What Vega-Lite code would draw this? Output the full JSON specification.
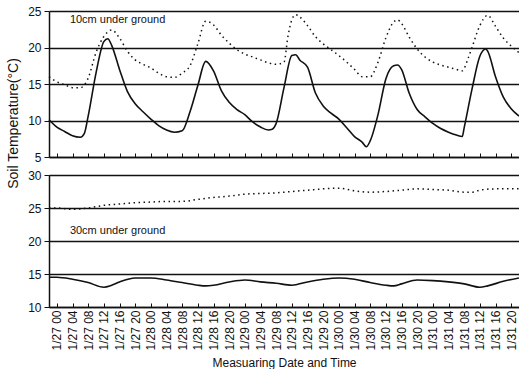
{
  "$schema": "https://vega.github.io/schema/vega-lite/v6.json",
  "padding": {"left": 6, "top": 5, "right": 0, "bottom": 0},
  "spacing": 6,
  "title": {"text": "Soil Temperature(°C)", "orient": "left", "anchor": "middle", "fontSize": 14, "fontWeight": "normal", "font": "Liberation Sans", "color": "#111", "offset": 7, "dx": 63},
  "config": {
    "view": {"stroke": null},
    "font": "Liberation Sans",
    "axis": {"labelColor": "#111", "titleColor": "#111", "domainColor": "#111", "tickColor": "#111", "titleFontWeight": "normal"}
  },
  "datasets": {
    "d10": [
      {"t": "2001-01-26T22:00", "s": "a", "v": 10.1},
      {"t": "2001-01-27T00:00", "s": "a", "v": 9.1},
      {"t": "2001-01-27T02:00", "s": "a", "v": 8.5},
      {"t": "2001-01-27T04:00", "s": "a", "v": 7.9},
      {"t": "2001-01-27T06:00", "s": "a", "v": 7.7},
      {"t": "2001-01-27T07:00", "s": "a", "v": 8.2},
      {"t": "2001-01-27T08:00", "s": "a", "v": 10.6},
      {"t": "2001-01-27T10:00", "s": "a", "v": 16.5},
      {"t": "2001-01-27T12:00", "s": "a", "v": 20.8},
      {"t": "2001-01-27T13:00", "s": "a", "v": 21.2},
      {"t": "2001-01-27T14:00", "s": "a", "v": 20.3},
      {"t": "2001-01-27T16:00", "s": "a", "v": 17.0},
      {"t": "2001-01-27T18:00", "s": "a", "v": 14.0},
      {"t": "2001-01-27T20:00", "s": "a", "v": 12.3},
      {"t": "2001-01-27T22:00", "s": "a", "v": 11.2},
      {"t": "2001-01-28T00:00", "s": "a", "v": 10.2},
      {"t": "2001-01-28T02:00", "s": "a", "v": 9.3},
      {"t": "2001-01-28T04:00", "s": "a", "v": 8.7},
      {"t": "2001-01-28T06:00", "s": "a", "v": 8.4},
      {"t": "2001-01-28T08:00", "s": "a", "v": 8.6},
      {"t": "2001-01-28T10:00", "s": "a", "v": 11.2},
      {"t": "2001-01-28T12:00", "s": "a", "v": 14.8},
      {"t": "2001-01-28T14:00", "s": "a", "v": 18.1},
      {"t": "2001-01-28T16:00", "s": "a", "v": 16.8},
      {"t": "2001-01-28T18:00", "s": "a", "v": 14.1},
      {"t": "2001-01-28T20:00", "s": "a", "v": 12.5},
      {"t": "2001-01-28T22:00", "s": "a", "v": 11.5},
      {"t": "2001-01-29T00:00", "s": "a", "v": 10.8},
      {"t": "2001-01-29T02:00", "s": "a", "v": 9.8},
      {"t": "2001-01-29T04:00", "s": "a", "v": 9.1},
      {"t": "2001-01-29T06:00", "s": "a", "v": 8.7},
      {"t": "2001-01-29T07:00", "s": "a", "v": 8.8},
      {"t": "2001-01-29T08:00", "s": "a", "v": 9.6},
      {"t": "2001-01-29T10:00", "s": "a", "v": 14.5},
      {"t": "2001-01-29T12:00", "s": "a", "v": 18.9},
      {"t": "2001-01-29T13:00", "s": "a", "v": 19.0},
      {"t": "2001-01-29T14:00", "s": "a", "v": 18.3},
      {"t": "2001-01-29T16:00", "s": "a", "v": 17.3},
      {"t": "2001-01-29T18:00", "s": "a", "v": 13.8},
      {"t": "2001-01-29T20:00", "s": "a", "v": 12.0},
      {"t": "2001-01-29T22:00", "s": "a", "v": 11.0},
      {"t": "2001-01-30T00:00", "s": "a", "v": 10.2},
      {"t": "2001-01-30T02:00", "s": "a", "v": 9.0},
      {"t": "2001-01-30T04:00", "s": "a", "v": 7.8},
      {"t": "2001-01-30T06:00", "s": "a", "v": 7.0},
      {"t": "2001-01-30T07:00", "s": "a", "v": 6.4},
      {"t": "2001-01-30T08:00", "s": "a", "v": 7.2},
      {"t": "2001-01-30T10:00", "s": "a", "v": 10.8},
      {"t": "2001-01-30T12:00", "s": "a", "v": 15.7},
      {"t": "2001-01-30T14:00", "s": "a", "v": 17.5},
      {"t": "2001-01-30T15:00", "s": "a", "v": 17.6},
      {"t": "2001-01-30T16:00", "s": "a", "v": 17.0},
      {"t": "2001-01-30T18:00", "s": "a", "v": 13.7},
      {"t": "2001-01-30T20:00", "s": "a", "v": 11.5},
      {"t": "2001-01-30T22:00", "s": "a", "v": 10.5},
      {"t": "2001-01-31T00:00", "s": "a", "v": 9.6},
      {"t": "2001-01-31T02:00", "s": "a", "v": 8.9},
      {"t": "2001-01-31T04:00", "s": "a", "v": 8.4},
      {"t": "2001-01-31T06:00", "s": "a", "v": 8.0},
      {"t": "2001-01-31T07:30", "s": "a", "v": 7.8},
      {"t": "2001-01-31T08:00", "s": "a", "v": 9.0},
      {"t": "2001-01-31T10:00", "s": "a", "v": 14.3},
      {"t": "2001-01-31T12:00", "s": "a", "v": 18.8},
      {"t": "2001-01-31T13:30", "s": "a", "v": 19.8},
      {"t": "2001-01-31T14:00", "s": "a", "v": 19.5},
      {"t": "2001-01-31T16:00", "s": "a", "v": 16.0},
      {"t": "2001-01-31T18:00", "s": "a", "v": 13.2},
      {"t": "2001-01-31T20:00", "s": "a", "v": 11.6},
      {"t": "2001-01-31T22:00", "s": "a", "v": 10.6},
      {"t": "2001-01-26T22:00", "s": "b", "v": 16.0},
      {"t": "2001-01-27T00:00", "s": "b", "v": 15.3},
      {"t": "2001-01-27T02:00", "s": "b", "v": 14.9},
      {"t": "2001-01-27T04:00", "s": "b", "v": 14.5},
      {"t": "2001-01-27T06:00", "s": "b", "v": 14.5},
      {"t": "2001-01-27T08:00", "s": "b", "v": 15.8},
      {"t": "2001-01-27T10:00", "s": "b", "v": 19.3},
      {"t": "2001-01-27T12:00", "s": "b", "v": 21.5},
      {"t": "2001-01-27T14:00", "s": "b", "v": 22.4},
      {"t": "2001-01-27T16:00", "s": "b", "v": 21.3},
      {"t": "2001-01-27T18:00", "s": "b", "v": 19.5},
      {"t": "2001-01-27T20:00", "s": "b", "v": 18.3},
      {"t": "2001-01-27T22:00", "s": "b", "v": 17.7},
      {"t": "2001-01-28T00:00", "s": "b", "v": 17.2},
      {"t": "2001-01-28T02:00", "s": "b", "v": 16.5},
      {"t": "2001-01-28T04:00", "s": "b", "v": 16.0},
      {"t": "2001-01-28T06:00", "s": "b", "v": 15.9},
      {"t": "2001-01-28T08:00", "s": "b", "v": 16.5},
      {"t": "2001-01-28T10:00", "s": "b", "v": 17.5},
      {"t": "2001-01-28T12:00", "s": "b", "v": 20.5},
      {"t": "2001-01-28T14:00", "s": "b", "v": 23.6},
      {"t": "2001-01-28T16:00", "s": "b", "v": 23.1},
      {"t": "2001-01-28T18:00", "s": "b", "v": 21.7},
      {"t": "2001-01-28T20:00", "s": "b", "v": 20.6},
      {"t": "2001-01-28T22:00", "s": "b", "v": 19.7},
      {"t": "2001-01-29T00:00", "s": "b", "v": 19.1},
      {"t": "2001-01-29T02:00", "s": "b", "v": 18.7},
      {"t": "2001-01-29T04:00", "s": "b", "v": 18.3},
      {"t": "2001-01-29T06:00", "s": "b", "v": 17.9},
      {"t": "2001-01-29T08:00", "s": "b", "v": 17.7},
      {"t": "2001-01-29T10:00", "s": "b", "v": 18.0},
      {"t": "2001-01-29T11:00", "s": "b", "v": 21.5},
      {"t": "2001-01-29T12:00", "s": "b", "v": 23.8},
      {"t": "2001-01-29T13:00", "s": "b", "v": 24.5},
      {"t": "2001-01-29T14:00", "s": "b", "v": 24.2},
      {"t": "2001-01-29T16:00", "s": "b", "v": 23.0},
      {"t": "2001-01-29T18:00", "s": "b", "v": 21.5},
      {"t": "2001-01-29T20:00", "s": "b", "v": 20.5},
      {"t": "2001-01-29T22:00", "s": "b", "v": 19.7},
      {"t": "2001-01-30T00:00", "s": "b", "v": 18.9},
      {"t": "2001-01-30T02:00", "s": "b", "v": 18.0},
      {"t": "2001-01-30T04:00", "s": "b", "v": 17.0},
      {"t": "2001-01-30T06:00", "s": "b", "v": 16.0},
      {"t": "2001-01-30T08:00", "s": "b", "v": 16.0},
      {"t": "2001-01-30T10:00", "s": "b", "v": 18.0},
      {"t": "2001-01-30T12:00", "s": "b", "v": 21.3},
      {"t": "2001-01-30T14:00", "s": "b", "v": 23.5},
      {"t": "2001-01-30T15:00", "s": "b", "v": 23.8},
      {"t": "2001-01-30T16:00", "s": "b", "v": 23.3},
      {"t": "2001-01-30T18:00", "s": "b", "v": 21.4},
      {"t": "2001-01-30T20:00", "s": "b", "v": 19.8},
      {"t": "2001-01-30T22:00", "s": "b", "v": 18.7},
      {"t": "2001-01-31T00:00", "s": "b", "v": 18.0},
      {"t": "2001-01-31T02:00", "s": "b", "v": 17.6},
      {"t": "2001-01-31T04:00", "s": "b", "v": 17.3},
      {"t": "2001-01-31T06:00", "s": "b", "v": 17.0},
      {"t": "2001-01-31T07:30", "s": "b", "v": 16.8},
      {"t": "2001-01-31T09:00", "s": "b", "v": 18.5},
      {"t": "2001-01-31T10:00", "s": "b", "v": 20.0},
      {"t": "2001-01-31T12:00", "s": "b", "v": 23.0},
      {"t": "2001-01-31T14:00", "s": "b", "v": 24.4},
      {"t": "2001-01-31T16:00", "s": "b", "v": 22.9},
      {"t": "2001-01-31T18:00", "s": "b", "v": 21.3},
      {"t": "2001-01-31T20:00", "s": "b", "v": 20.2},
      {"t": "2001-01-31T22:00", "s": "b", "v": 19.3}
    ],
    "d30": [
      {"t": "2001-01-26T22:00", "s": "a", "v": 14.5},
      {"t": "2001-01-27T00:00", "s": "a", "v": 14.5},
      {"t": "2001-01-27T04:00", "s": "a", "v": 14.2},
      {"t": "2001-01-27T08:00", "s": "a", "v": 13.7},
      {"t": "2001-01-27T12:00", "s": "a", "v": 13.0},
      {"t": "2001-01-27T14:00", "s": "a", "v": 13.3},
      {"t": "2001-01-27T16:00", "s": "a", "v": 13.8},
      {"t": "2001-01-27T20:00", "s": "a", "v": 14.4},
      {"t": "2001-01-28T00:00", "s": "a", "v": 14.4},
      {"t": "2001-01-28T04:00", "s": "a", "v": 14.1},
      {"t": "2001-01-28T08:00", "s": "a", "v": 13.7},
      {"t": "2001-01-28T12:00", "s": "a", "v": 13.3},
      {"t": "2001-01-28T14:00", "s": "a", "v": 13.2},
      {"t": "2001-01-28T16:00", "s": "a", "v": 13.3},
      {"t": "2001-01-28T20:00", "s": "a", "v": 13.8},
      {"t": "2001-01-29T00:00", "s": "a", "v": 14.1},
      {"t": "2001-01-29T04:00", "s": "a", "v": 13.8},
      {"t": "2001-01-29T08:00", "s": "a", "v": 13.6},
      {"t": "2001-01-29T12:00", "s": "a", "v": 13.3},
      {"t": "2001-01-29T16:00", "s": "a", "v": 13.8},
      {"t": "2001-01-29T20:00", "s": "a", "v": 14.2},
      {"t": "2001-01-30T00:00", "s": "a", "v": 14.4},
      {"t": "2001-01-30T04:00", "s": "a", "v": 14.2},
      {"t": "2001-01-30T08:00", "s": "a", "v": 13.7},
      {"t": "2001-01-30T12:00", "s": "a", "v": 13.3},
      {"t": "2001-01-30T14:00", "s": "a", "v": 13.2},
      {"t": "2001-01-30T16:00", "s": "a", "v": 13.5},
      {"t": "2001-01-30T20:00", "s": "a", "v": 14.1},
      {"t": "2001-01-31T00:00", "s": "a", "v": 14.0},
      {"t": "2001-01-31T04:00", "s": "a", "v": 13.8},
      {"t": "2001-01-31T08:00", "s": "a", "v": 13.5},
      {"t": "2001-01-31T12:00", "s": "a", "v": 13.0},
      {"t": "2001-01-31T14:00", "s": "a", "v": 13.2},
      {"t": "2001-01-31T18:00", "s": "a", "v": 13.9},
      {"t": "2001-01-31T22:00", "s": "a", "v": 14.4},
      {"t": "2001-01-26T22:00", "s": "b", "v": 25.0},
      {"t": "2001-01-27T00:00", "s": "b", "v": 25.0},
      {"t": "2001-01-27T04:00", "s": "b", "v": 24.8},
      {"t": "2001-01-27T08:00", "s": "b", "v": 25.0},
      {"t": "2001-01-27T12:00", "s": "b", "v": 25.4},
      {"t": "2001-01-27T16:00", "s": "b", "v": 25.6},
      {"t": "2001-01-27T20:00", "s": "b", "v": 25.8},
      {"t": "2001-01-28T00:00", "s": "b", "v": 25.9},
      {"t": "2001-01-28T04:00", "s": "b", "v": 26.0},
      {"t": "2001-01-28T08:00", "s": "b", "v": 26.0},
      {"t": "2001-01-28T12:00", "s": "b", "v": 26.3},
      {"t": "2001-01-28T16:00", "s": "b", "v": 26.6},
      {"t": "2001-01-28T20:00", "s": "b", "v": 26.8},
      {"t": "2001-01-29T00:00", "s": "b", "v": 27.1},
      {"t": "2001-01-29T04:00", "s": "b", "v": 27.2},
      {"t": "2001-01-29T08:00", "s": "b", "v": 27.3},
      {"t": "2001-01-29T12:00", "s": "b", "v": 27.5},
      {"t": "2001-01-29T16:00", "s": "b", "v": 27.7},
      {"t": "2001-01-29T20:00", "s": "b", "v": 27.9},
      {"t": "2001-01-30T00:00", "s": "b", "v": 28.0},
      {"t": "2001-01-30T04:00", "s": "b", "v": 27.6},
      {"t": "2001-01-30T08:00", "s": "b", "v": 27.4},
      {"t": "2001-01-30T12:00", "s": "b", "v": 27.5},
      {"t": "2001-01-30T16:00", "s": "b", "v": 27.7},
      {"t": "2001-01-30T20:00", "s": "b", "v": 27.9},
      {"t": "2001-01-31T00:00", "s": "b", "v": 27.8},
      {"t": "2001-01-31T04:00", "s": "b", "v": 27.7},
      {"t": "2001-01-31T08:00", "s": "b", "v": 27.4},
      {"t": "2001-01-31T10:00", "s": "b", "v": 27.4},
      {"t": "2001-01-31T12:00", "s": "b", "v": 27.7},
      {"t": "2001-01-31T16:00", "s": "b", "v": 27.9},
      {"t": "2001-01-31T22:00", "s": "b", "v": 27.9}
    ],
    "lab": [
      {"p": "top", "t": "2001-01-27T03:20", "v": 23.8, "label": "10cm under ground"},
      {"p": "bot", "t": "2001-01-27T03:20", "v": 21.5, "label": "30cm under ground"}
    ]
  },
  "vconcat": [
    {
      "width": 470,
      "height": 146,
      "encoding": {
        "x": {"field": "t", "type": "temporal",
          "scale": {"domain": [{"year": 2001, "month": 1, "date": 26, "hours": 22}, {"year": 2001, "month": 1, "date": 31, "hours": 22}]},
          "axis": {"values": [
            {"year": 2001, "month": 1, "date": 27, "hours": 0}, {"year": 2001, "month": 1, "date": 27, "hours": 4}, {"year": 2001, "month": 1, "date": 27, "hours": 8}, {"year": 2001, "month": 1, "date": 27, "hours": 12}, {"year": 2001, "month": 1, "date": 27, "hours": 16}, {"year": 2001, "month": 1, "date": 27, "hours": 20},
            {"year": 2001, "month": 1, "date": 28, "hours": 0}, {"year": 2001, "month": 1, "date": 28, "hours": 4}, {"year": 2001, "month": 1, "date": 28, "hours": 8}, {"year": 2001, "month": 1, "date": 28, "hours": 12}, {"year": 2001, "month": 1, "date": 28, "hours": 16}, {"year": 2001, "month": 1, "date": 28, "hours": 20},
            {"year": 2001, "month": 1, "date": 29, "hours": 0}, {"year": 2001, "month": 1, "date": 29, "hours": 4}, {"year": 2001, "month": 1, "date": 29, "hours": 8}, {"year": 2001, "month": 1, "date": 29, "hours": 12}, {"year": 2001, "month": 1, "date": 29, "hours": 16}, {"year": 2001, "month": 1, "date": 29, "hours": 20},
            {"year": 2001, "month": 1, "date": 30, "hours": 0}, {"year": 2001, "month": 1, "date": 30, "hours": 4}, {"year": 2001, "month": 1, "date": 30, "hours": 8}, {"year": 2001, "month": 1, "date": 30, "hours": 12}, {"year": 2001, "month": 1, "date": 30, "hours": 16}, {"year": 2001, "month": 1, "date": 30, "hours": 20},
            {"year": 2001, "month": 1, "date": 31, "hours": 0}, {"year": 2001, "month": 1, "date": 31, "hours": 4}, {"year": 2001, "month": 1, "date": 31, "hours": 8}, {"year": 2001, "month": 1, "date": 31, "hours": 12}, {"year": 2001, "month": 1, "date": 31, "hours": 16}, {"year": 2001, "month": 1, "date": 31, "hours": 20}],
            "labels": false, "tickSize": -4, "grid": false, "title": null, "domainWidth": 1.5}},
        "y": {"field": "v", "type": "quantitative", "scale": {"domain": [5, 25]},
          "axis": {"values": [5, 10, 15, 20, 25], "grid": true, "gridColor": "#111", "gridWidth": 1.5, "gridOpacity": 1, "tickSize": 5, "labelPadding": 3, "labelFontSize": 12, "domainWidth": 1.5, "title": null}}
      },
      "layer": [
        {
          "data": {"name": "d10"},
          "transform": [{"filter": "datum.s == 'a'"}],
          "mark": {"type": "line", "color": "#111", "strokeWidth": 1.6, "interpolate": "monotone"}
        },
        {
          "data": {"name": "d10"},
          "transform": [{"filter": "datum.s == 'b'"}],
          "mark": {"type": "line", "color": "#111", "strokeWidth": 1.5, "strokeDash": [1.5, 3.5], "interpolate": "monotone"}
        },
        {
          "data": {"name": "lab"},
          "transform": [{"filter": "datum.p == 'top'"}],
          "mark": {"type": "text", "align": "left", "baseline": "middle", "fontSize": 11, "color": "#111"},
          "encoding": {"text": {"field": "label"}}
        }
      ]
    },
    {
      "width": 470,
      "height": 132,
      "encoding": {
        "x": {"field": "t", "type": "temporal",
          "scale": {"domain": [{"year": 2001, "month": 1, "date": 26, "hours": 22}, {"year": 2001, "month": 1, "date": 31, "hours": 22}]},
          "axis": {"values": [
            {"year": 2001, "month": 1, "date": 27, "hours": 0}, {"year": 2001, "month": 1, "date": 27, "hours": 4}, {"year": 2001, "month": 1, "date": 27, "hours": 8}, {"year": 2001, "month": 1, "date": 27, "hours": 12}, {"year": 2001, "month": 1, "date": 27, "hours": 16}, {"year": 2001, "month": 1, "date": 27, "hours": 20},
            {"year": 2001, "month": 1, "date": 28, "hours": 0}, {"year": 2001, "month": 1, "date": 28, "hours": 4}, {"year": 2001, "month": 1, "date": 28, "hours": 8}, {"year": 2001, "month": 1, "date": 28, "hours": 12}, {"year": 2001, "month": 1, "date": 28, "hours": 16}, {"year": 2001, "month": 1, "date": 28, "hours": 20},
            {"year": 2001, "month": 1, "date": 29, "hours": 0}, {"year": 2001, "month": 1, "date": 29, "hours": 4}, {"year": 2001, "month": 1, "date": 29, "hours": 8}, {"year": 2001, "month": 1, "date": 29, "hours": 12}, {"year": 2001, "month": 1, "date": 29, "hours": 16}, {"year": 2001, "month": 1, "date": 29, "hours": 20},
            {"year": 2001, "month": 1, "date": 30, "hours": 0}, {"year": 2001, "month": 1, "date": 30, "hours": 4}, {"year": 2001, "month": 1, "date": 30, "hours": 8}, {"year": 2001, "month": 1, "date": 30, "hours": 12}, {"year": 2001, "month": 1, "date": 30, "hours": 16}, {"year": 2001, "month": 1, "date": 30, "hours": 20},
            {"year": 2001, "month": 1, "date": 31, "hours": 0}, {"year": 2001, "month": 1, "date": 31, "hours": 4}, {"year": 2001, "month": 1, "date": 31, "hours": 8}, {"year": 2001, "month": 1, "date": 31, "hours": 12}, {"year": 2001, "month": 1, "date": 31, "hours": 16}, {"year": 2001, "month": 1, "date": 31, "hours": 20}],
            "format": "%-m/%d %H", "labelAngle": 270, "labelFontSize": 12, "labelOverlap": false, "tickSize": -4, "labelPadding": 7, "grid": false, "domainWidth": 1.5,
            "title": "Measuaring Date and Time", "titleFontSize": 12, "titlePadding": 7}},
        "y": {"field": "v", "type": "quantitative", "scale": {"domain": [10, 30]},
          "axis": {"values": [10, 15, 20, 25, 30], "grid": true, "gridColor": "#111", "gridWidth": 1.5, "gridOpacity": 1, "tickSize": 5, "labelPadding": 3, "labelFontSize": 12, "domainWidth": 1.5, "title": null}}
      },
      "layer": [
        {
          "data": {"name": "d30"},
          "transform": [{"filter": "datum.s == 'a'"}],
          "mark": {"type": "line", "color": "#111", "strokeWidth": 1.6, "interpolate": "monotone"}
        },
        {
          "data": {"name": "d30"},
          "transform": [{"filter": "datum.s == 'b'"}],
          "mark": {"type": "line", "color": "#111", "strokeWidth": 1.5, "strokeDash": [1.5, 3.5], "interpolate": "monotone"}
        },
        {
          "data": {"name": "lab"},
          "transform": [{"filter": "datum.p == 'bot'"}],
          "mark": {"type": "text", "align": "left", "baseline": "middle", "fontSize": 11, "color": "#111"},
          "encoding": {"text": {"field": "label"}}
        }
      ]
    }
  ]
}
